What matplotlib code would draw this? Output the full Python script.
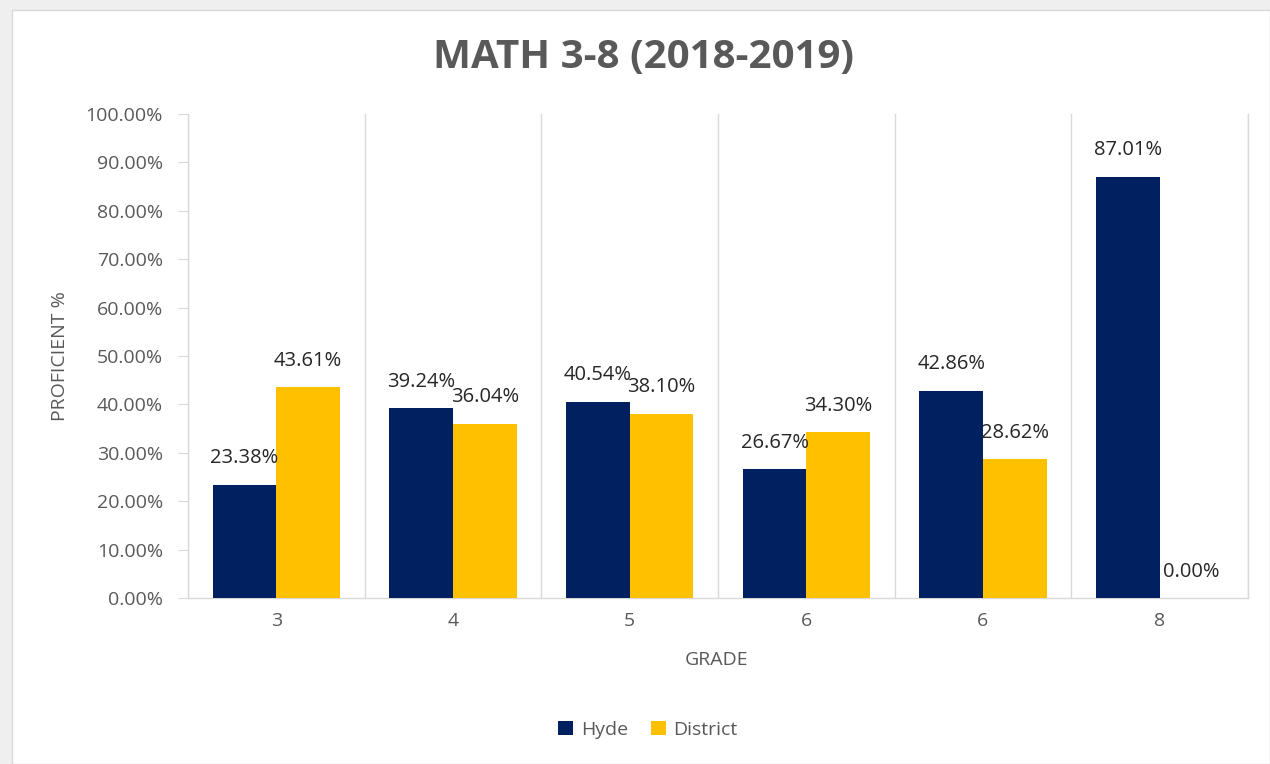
import matplotlib
matplotlib.use("Agg")
import matplotlib.pyplot as plt
import numpy as np
from matplotlib.patches import Rectangle

grades = ["3", "4", "5", "6", "6", "8"]
hyde = [23.38, 39.24, 40.54, 26.67, 42.86, 87.01]
district = [43.61, 36.04, 38.10, 34.30, 28.62, 0.00]
yticks = [0, 10, 20, 30, 40, 50, 60, 70, 80, 90, 100]

plt.rcParams['font.family'] = ['Open Sans', 'DejaVu Sans']

fig = plt.figure(figsize=(12.7, 7.64), dpi=100)
fig.patch.set_facecolor('#efefef')
fig.add_artist(Rectangle((12/1270, 0), 1 - 12/1270, 1 - 10/764, transform=fig.transFigure,
                         facecolor='white', edgecolor='#d9d9d9', linewidth=1, zorder=0))

ax = fig.add_axes([188/1270, 1 - 598/764, (1248-188)/1270, (598-114)/764])
ax.set_facecolor('white')

x = np.arange(len(grades))
w = 0.36
navy = '#002060'
gold = '#ffc000'
b1 = ax.bar(x - w/2, hyde, w, color=navy, label='Hyde', zorder=3)
b2 = ax.bar(x + w/2, district, w, color=gold, label='District', zorder=3)

fs = 14
lfs = 14.5
for xi, v in zip(x - w/2, hyde):
    ax.annotate(f"{v:.2f}%", (xi, v), xytext=(0, 19), textcoords='offset points',
                ha='center', va='center', fontsize=lfs, color='#262626', zorder=4)
for xi, v in zip(x + w/2, district):
    ax.annotate(f"{v:.2f}%", (xi, v), xytext=(0, 19), textcoords='offset points',
                ha='center', va='center', fontsize=lfs, color='#262626', zorder=4)

ax.set_xlim(-0.5, len(grades) - 0.5)
ax.set_ylim(0, 100)
ax.set_yticks(yticks)
ax.set_yticklabels([f"{t:.2f}%" for t in yticks], fontsize=fs, color='#595959')
ax.set_xticks(x)
ax.set_xticklabels(grades, fontsize=fs, color='#595959')
ax.set_xticks(np.arange(len(grades) + 1) - 0.5, minor=True)
ax.tick_params(axis='x', which='major', length=0, pad=10)
ax.tick_params(axis='x', which='minor', length=0)
ax.tick_params(axis='y', length=7, color='#d9d9d9', pad=11)
ax.grid(axis='x', which='minor', color='#d9d9d9', linewidth=1, zorder=0)
ax.grid(axis='x', which='major', visible=False)
ax.spines['top'].set_visible(False)
for s in ['left', 'bottom', 'right']:
    ax.spines[s].set_color('#d9d9d9')
    ax.spines[s].set_linewidth(1)

ax.set_ylabel("PROFICIENT %", fontsize=fs, color='#595959')
ax.yaxis.set_label_coords((60 - 188) / 1060, 0.5)
ax.set_xlabel("GRADE", fontsize=fs, color='#595959')
ax.xaxis.set_label_coords(0.5 + (717 - 718) / 1060, (598 - 660) / 484)
ax.xaxis.label.set_va('center')
ax.yaxis.label.set_va('center')

fig.text(643/1270, 1 - 57/764, "MATH 3-8 (2018-2019)", ha='center', va='center',
         fontsize=29, fontweight='bold', color='#595959')

leg = fig.legend(handles=[b1, b2], labels=['Hyde', 'District'], loc='center',
                 bbox_to_anchor=(648/1270, 1 - 730/764), ncol=2, frameon=False,
                 fontsize=fs, handlelength=0.75, handleheight=0.75, handletextpad=0.4,
                 columnspacing=1.2)
for t in leg.get_texts():
    t.set_color('#595959')

fig.savefig("out.png", dpi=100, facecolor=fig.get_facecolor())
